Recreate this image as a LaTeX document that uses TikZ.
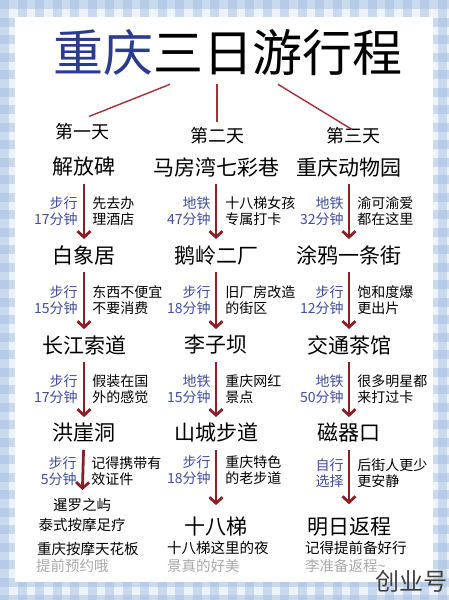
\documentclass[tikz,border=0pt]{standalone}
\usepackage{fontspec}
\setmainfont{Noto Sans CJK SC}
\usetikzlibrary{arrows.meta}
\definecolor{gingham}{HTML}{9DBBE0}
\definecolor{paleblue}{HTML}{EEF3FA}
\definecolor{titleblue}{HTML}{2B3C8E}
\definecolor{wayblue}{HTML}{3F4E9E}
\definecolor{arrowred}{HTML}{8C1F26}
\definecolor{linered}{HTML}{A3303A}
\definecolor{softgray}{HTML}{A9A9A9}

\begin{document}
\begin{tikzpicture}[x=1pt, y=-1pt, >={Straight Barb[length=6pt,width=13pt]},
  spot/.style={font=\fontsize{21}{21}\selectfont, inner sep=2pt},
  day/.style={font=\fontsize{18}{18}\selectfont, inner sep=0pt},
  way/.style={font=\fontsize{14}{16}\selectfont, text=wayblue, align=right, inner sep=0pt},
  note/.style={font=\fontsize{14}{16}\selectfont, align=left, inner sep=0pt},
  aside/.style={font=\fontsize{14.5}{14.5}\selectfont, inner sep=0pt},
  leg/.style={->, draw=arrowred, line width=2.8pt, shorten <=5pt, shorten >=4pt},
  branch/.style={draw=linered, line width=1.4pt}]
  \useasboundingbox (0,0) rectangle (449,600);
  % gingham frame
  \fill[paleblue] (0,0) rectangle (449,600);
  \foreach \s in {0,17.5,...,449} \fill[gingham, opacity=0.45] (\s,0) rectangle ++(9,600);
  \foreach \s in {0,17.5,...,600} \fill[gingham, opacity=0.45] (0,\s) rectangle ++(449,9);
  \fill[white] (15,17) rectangle (433,582);

  % title and the three days
  \node[font=\fontsize{50}{50}\selectfont, inner sep=0pt] (title) at (228,53) {{\color{titleblue}重庆}三日游行程};
  \node[day] (d1) at (82,132) {第一天};
  \node[day] (d2) at (217,136) {第二天};
  \node[day] (d3) at (353,136) {第三天};
  \draw[branch] ([shift={(-58,8)}]title.south) -- ([shift={(7,-7)}]d1.north);
  \draw[branch] ([shift={(-11,8)}]title.south) -- ([shift={(0,-5)}]d2.north);
  \draw[branch] ([shift={(50,8)}]title.south) -- ([shift={(-1,2)}]d3.north);

  % first day
  \node[spot] (jfb) at (84,167) {解放碑};
  \node[spot] (bxj) at (84,255) {白象居};
  \node[spot] (cjsd) at (84,345) {长江索道};
  \node[spot] (hyd) at (84,433) {洪崖洞};
  \node[aside] (xlzy) at (82,505) {暹罗之屿};
  \node[aside] (tsam) at (82,525) {泰式按摩足疗};
  \node[aside, anchor=west] (cqam) at (37,549) {重庆按摩天花板};
  \node[aside, anchor=west, text=softgray] (tqyy) at (36,566) {提前预约哦};
  \draw[leg] (jfb) -- (bxj) node[midway, way, left=5pt] {步行\\17分钟} node[midway, note, right=7pt] {先去办\\理酒店};
  \draw[leg] (bxj) -- (cjsd) node[midway, way, left=5pt] {步行\\15分钟} node[midway, note, right=7pt] {东西不便宜\\不要消费};
  \draw[leg] (cjsd) -- (hyd) node[midway, way, left=5pt] {步行\\17分钟} node[midway, note, right=7pt] {假装在国\\外的感觉};
  \draw[leg, shorten >=8pt] (hyd) -- (xlzy) node[midway, way, left=5pt] {步行\\5分钟} node[midway, note, right=7pt] {记得携带有\\效证件};

  % second day
  \node[spot] (mfw) at (216,167) {马房湾七彩巷};
  \node[spot] (elec) at (216,255) {鹅岭二厂};
  \node[spot] (lzb) at (216,345) {李子坝};
  \node[spot] (scbd) at (216,433) {山城步道};
  \node[spot] (sbt) at (216,527) {十八梯};
  \node[aside, anchor=west] (sbty) at (167,548) {十八梯这里的夜};
  \node[aside, anchor=west, text=softgray] (yjhm) at (167,566) {景真的好美};
  \draw[leg] (mfw) -- (elec) node[midway, way, left=4pt] {地铁\\47分钟} node[midway, note, right=8pt] {十八梯女孩\\专属打卡};
  \draw[leg] (elec) -- (lzb) node[midway, way, left=4pt] {步行\\18分钟} node[midway, note, right=8pt] {旧厂房改造\\的街区};
  \draw[leg] (lzb) -- (scbd) node[midway, way, left=4pt] {地铁\\15分钟} node[midway, note, right=8pt] {重庆网红\\景点};
  \draw[leg, shorten >=10pt] (scbd) -- (sbt) node[pos=0.36, way, left=4pt] {步行\\18分钟} node[pos=0.36, note, right=8pt] {重庆特色\\的老步道};

  % third day
  \node[spot] (dwy) at (349,167) {重庆动物园};
  \node[spot] (tyj) at (349,255) {涂鸦一条街};
  \node[spot] (jtcg) at (349,345) {交通茶馆};
  \node[spot] (cqk) at (349,433) {磁器口};
  \node[spot] (fc) at (349,527) {明日返程};
  \node[aside, anchor=west] (txl) at (305,548) {记得提前备好行};
  \node[aside, anchor=west, text=softgray] (zbfc) at (305,566) {李准备返程\textasciitilde};
  \draw[leg] (dwy) -- (tyj) node[midway, way, left=4pt] {地铁\\32分钟} node[midway, note, right=7pt] {渝可渝爱\\都在这里};
  \draw[leg] (tyj) -- (jtcg) node[midway, way, left=4pt] {步行\\12分钟} node[midway, note, right=7pt] {饱和度爆\\更出片};
  \draw[leg] (jtcg) -- (cqk) node[midway, way, left=4pt] {地铁\\50分钟} node[midway, note, right=7pt] {很多明星都\\来打过卡};
  \draw[leg, shorten >=11pt] (cqk) -- (fc) node[pos=0.4, way, left=4pt] {自行\\选择} node[pos=0.4, note, right=7pt] {后街人更少\\更安静};

  \node[font=\fontsize{24}{24}\selectfont, text=black!75, inner sep=0pt] (mark) at (411,581) {创业号};
\end{tikzpicture}
\end{document}
